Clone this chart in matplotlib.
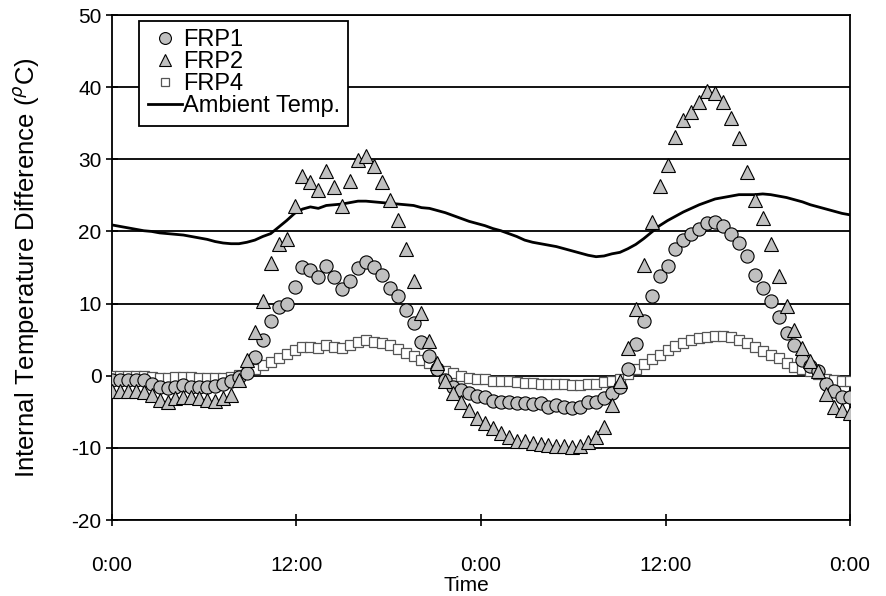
import numpy as np
import matplotlib
matplotlib.use("Agg")
from matplotlib import pyplot as plt

plt.rcParams['font.family'] = ['Liberation Sans', 'DejaVu Sans']
plt.rcParams['axes.unicode_minus'] = False

# readings every ~31 min over two days (94 samples)
n_pts = 94
hours = np.linspace(0, 48, n_pts)

frp1 = [-0.6, -0.6, -0.6, -0.6, -0.6, -1.1, -1.5, -1.7, -1.5, -1.3, -1.5, -1.6, -1.6, -1.4, -1.2, -0.8, -0.2,
        0.4, 2.6, 4.9, 7.6, 9.5, 10.0, 12.3, 15.1, 14.7, 13.7, 15.2, 13.7, 12.0, 13.2, 15.0, 15.8, 15.1, 14.0,
        12.1, 11.0, 9.1, 7.3, 4.7, 2.8, 0.9,
        -0.6, -1.5, -2.0, -2.4, -2.8, -3.0, -3.5, -3.6, -3.7, -3.8, -3.8, -3.9, -3.8, -4.4, -4.1, -4.3, -4.5,
        -4.4, -3.6, -3.6, -3.1, -2.4, -1.5,
        1.0, 4.4, 7.6, 11.0, 13.8, 15.2, 17.5, 18.8, 19.6, 20.3, 21.2, 21.3, 20.7, 19.7, 18.4, 16.6, 14.0,
        12.2, 10.4, 8.1, 5.9, 4.2, 2.2, 1.3, 0.6, -1.1, -2.1, -2.9, -3.0]

frp2 = [-2.1, -2.1, -2.1, -2.1, -2.2, -2.7, -3.4, -3.6, -3.1, -2.9, -2.9, -3.1, -3.4, -3.5, -3.1, -2.7, -0.6,
        2.2, 6.1, 10.4, 15.6, 18.2, 19.0, 23.5, 27.7, 26.9, 25.8, 28.4, 26.2, 23.5, 27.0, 29.9, 30.5, 29.1,
        26.8, 24.4, 21.6, 17.6, 13.1, 8.7, 4.8, 1.7,
        -0.7, -2.4, -3.7, -4.8, -5.8, -6.6, -7.3, -8.0, -8.5, -9.0, -9.1, -9.3, -9.4, -9.6, -9.8, -9.8, -9.9,
        -9.8, -9.2, -8.5, -7.1, -4.1, -0.8,
        3.8, 9.3, 15.3, 21.3, 26.3, 29.2, 33.1, 35.4, 36.6, 38.0, 39.4, 39.2, 38.0, 35.7, 33.0, 28.3, 24.4,
        21.8, 18.3, 13.8, 9.7, 6.3, 3.8, 2.0, 0.6, -2.5, -4.3, -4.8, -5.2]

frp4 = [-0.1, -0.1, -0.1, -0.1, -0.1, -0.2, -0.3, -0.3, -0.2, -0.2, -0.2, -0.3, -0.3, -0.3, -0.3, -0.2, 0.1,
        0.6, 1.0, 1.5, 1.9, 2.4, 3.0, 3.5, 4.0, 4.0, 3.9, 4.3, 4.0, 3.9, 4.3, 4.7, 4.9, 4.7, 4.6, 4.3, 3.7,
        3.2, 2.8, 2.2, 1.7, 1.0, 0.6, 0.4, 0.0, -0.3,
        -0.4, -0.5, -0.8, -0.8, -0.8, -0.9, -1.0, -1.0, -1.1, -1.1, -1.2, -1.2, -1.3, -1.3, -1.2, -1.2, -0.9,
        -0.8, -0.4,
        0.3, 0.9, 1.6, 2.3, 2.9, 3.5, 4.1, 4.6, 4.9, 5.2, 5.4, 5.5, 5.5, 5.3, 4.9, 4.6, 4.0, 3.4, 2.9, 2.4,
        1.8, 1.2, 0.9, 0.6, 0.3, -0.4, -0.6, -0.7, -0.8]

ambient = [20.9, 20.7, 20.5, 20.3, 20.1, 20.0, 19.8, 19.7, 19.6, 19.5, 19.3, 19.1, 18.9, 18.6, 18.4, 18.3,
           18.3, 18.5, 18.8, 19.3, 19.7, 20.6, 21.5, 22.5, 23.1, 23.4, 23.2, 23.6, 23.7, 23.8, 24.0, 24.2,
           24.2, 24.1, 24.0, 23.9, 23.8, 23.7, 23.6, 23.3, 23.2, 22.9, 22.6, 22.2, 21.8, 21.4, 21.1, 20.8,
           20.4, 20.1, 19.7, 19.3, 18.8, 18.5, 18.3, 18.1, 17.9, 17.6, 17.3, 17.0, 16.7, 16.5, 16.6, 16.9,
           17.1, 17.6, 18.2, 19.0, 19.9, 20.8, 21.5, 22.1, 22.7, 23.2, 23.7, 24.1, 24.5, 24.7, 24.9, 25.1,
           25.1, 25.1, 25.2, 25.1, 24.9, 24.7, 24.4, 24.1, 23.7, 23.4, 23.1, 22.8, 22.5, 22.3]

xtick_hours = [0, 12, 24, 36, 48]
xtick_labels = ['0:00', '12:00', '0:00', '12:00', '0:00']

fig = plt.figure(figsize=(8.86, 5.96), dpi=100)
ax = fig.add_axes([0.1264, 0.1275, 0.8330, 0.8473])

ax.plot(hours, ambient, color='black', lw=2.0, zorder=3, label='Ambient Temp.')
ax.plot(hours, frp4, ls='none', marker='s', ms=7, mfc='white', mec='#555555', mew=0.9,
        zorder=4, label='FRP4')
ax.plot(hours, frp1, ls='none', marker='o', ms=9.5, mfc='#c0c0c0', mec='black', mew=0.8,
        zorder=5, label='FRP1')
ax.plot(hours, frp2, ls='none', marker='^', ms=10, mfc='#c0c0c0', mec='black', mew=0.8,
        zorder=6, label='FRP2')

ax.set_xlim(0, 48)
ax.set_ylim(-20, 50)
ax.set_yticks(range(-20, 51, 10))
ax.set_xticks(xtick_hours)
ax.set_xticklabels(xtick_labels)
ax.yaxis.grid(True, color='black', lw=1.3)
ax.set_axisbelow(True)
for s in ax.spines.values():
    s.set_linewidth(1.3)
ax.tick_params(axis='both', labelsize=15, direction='inout', length=8, width=1.2)
ax.tick_params(axis='x', pad=22)

ax.set_xlabel('Time', fontsize=15, labelpad=0)
ax.xaxis.set_label_coords(0.48, -0.11)
ax.set_ylabel(r'Internal Temperature Difference ($^\rho$C)', fontsize=18.5, labelpad=22)

h, l = ax.get_legend_handles_labels()
order = [2, 3, 1, 0]
leg = ax.legend([h[i] for i in order], [l[i] for i in order], loc='upper left',
                bbox_to_anchor=(0.037, 0.988), fontsize=17, frameon=True, fancybox=False,
                edgecolor='black', framealpha=1, borderpad=0.35, labelspacing=0.0,
                handlelength=1.45, handletextpad=0.05, markerscale=0.9, borderaxespad=0)
leg.get_frame().set_linewidth(1.3)

fig.savefig('out.png', dpi=100)
